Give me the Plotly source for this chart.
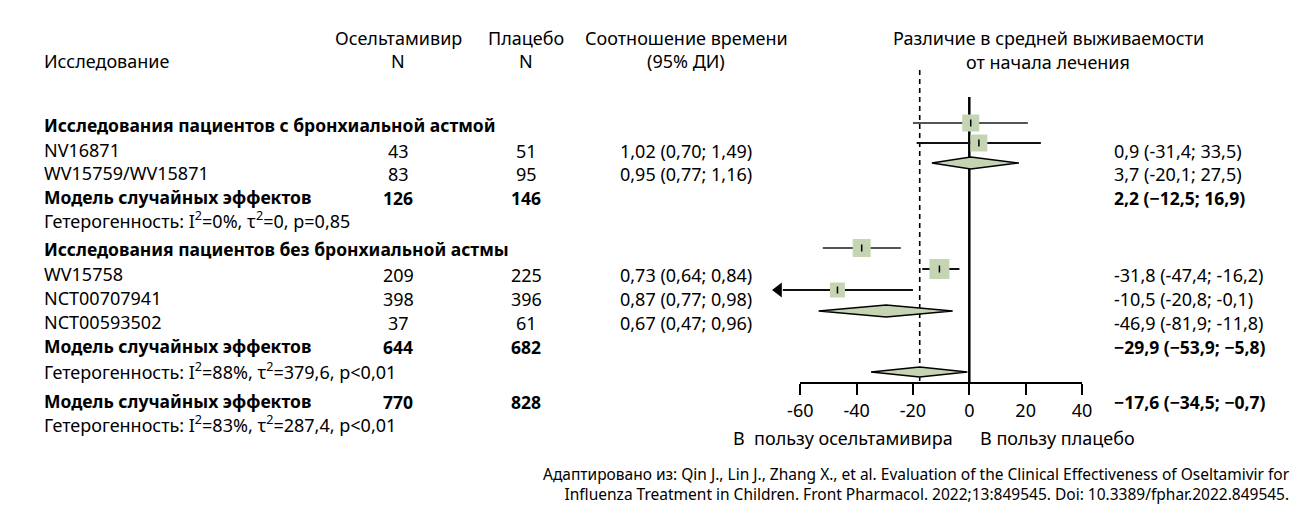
import plotly.graph_objects as go

# ---------------- data ----------------
studies = ["NV16871", "WV15759/WV15871", "WV15758", "NCT00707941", "NCT00593502"]
n_osel = [43, 83, 209, 398, 37]
n_plac = [51, 95, 225, 396, 61]
ratio_txt = ["1,02 (0,70; 1,49)", "0,95 (0,77; 1,16)", "0,73 (0,64; 0,84)",
             "0,87 (0,77; 0,98)", "0,67 (0,47; 0,96)"]
diff_txt = ["0,9 (-31,4; 33,5)", "3,7 (-20,1; 27,5)", "-31,8 (-47,4; -16,2)",
            "-10,5 (-20,8; -0,1)", "-46,9 (-81,9; -11,8)"]

group_names = ["Исследования пациентов с бронхиальной астмой",
               "Исследования пациентов без бронхиальной астмы"]
model_label = "Модель случайных эффектов"
model_n_osel = [126, 644, 770]
model_n_plac = [146, 682, 828]
model_diff_txt = ["2,2 (−12,5; 16,9)", "−29,9 (−53,9; −5,8)", "−17,6 (−34,5; −0,7)"]
het_txt = ["Гетерогенность: I<sup>2</sup>=0%, τ<sup>2</sup>=0, p=0,85",
           "Гетерогенность: I<sup>2</sup>=88%, τ<sup>2</sup>=379,6, p<0,01",
           "Гетерогенность: I<sup>2</sup>=83%, τ<sup>2</sup>=287,4, p<0,01"]

# marks as drawn in the figure
sq_est = [0.5, 3.4, -38.2, -10.6, -46.8]
sq_lo = [-20.0, -18.7, -52.0, -16.7, -70.0]
sq_hi = [20.8, 25.4, -24.3, -3.5, -20.0]
sq_size = [17, 17, 18, 20, 15]
sq_arrow_left = [False, False, False, False, True]
ci_color = ["#555555", "#111111", "#555555", "#111111", "#111111"]

pool_est = [0.5, -29.5, -17.6]
pool_lo = [-13.3, -53.5, -34.9]
pool_hi = [17.6, -5.9, -0.7]
pool_h = [12, 12, 10]
overall_est = -17.6

ticks = [-60, -40, -20, 0, 20, 40]

# ---------------- layout constants ----------------
W, H = 1310, 505
X0 = 969.3                # pixel of value 0
PXU = 2.817               # pixels per unit
def px(v):
    return X0 + PXU * v
def pap(x):
    return x / W

# row pixel positions (text)
y_hdr1, y_hdr2 = 38, 61
y_text_study = [150, 173, 274, 298, 322]
y_text_group = [125, 249]
y_text_model = [197, 346, 401]
y_text_het = [220, 371, 424]
# mark rows
y_sq = [123, 143, 248, 269, 290]
y_pool = [163, 311, 372]
Y_AXIS = 382

GREEN = "#c5d5b4"
FONT = "Noto Sans"
FS = 18
FSB = 17.5

fig = go.Figure()

xr_main = [(0 - X0) / PXU, (W - X0) / PXU]

# zero line and overall dashed line
fig.add_trace(go.Scatter(x=[0, 0], y=[97, Y_AXIS], mode="lines",
                         line=dict(color="black", width=2.5),
                         hoverinfo="skip", showlegend=False))
fig.add_trace(go.Scatter(x=[overall_est, overall_est], y=[70, Y_AXIS], mode="lines",
                         line=dict(color="black", width=1.6, dash="5px,4px"),
                         hoverinfo="skip", showlegend=False))

# study CIs, squares and ticks
for i in range(len(studies)):
    lo = sq_lo[i] + (3.8 if sq_arrow_left[i] else 0)
    fig.add_trace(go.Scatter(x=[lo, sq_hi[i]], y=[y_sq[i], y_sq[i]], mode="lines",
                             line=dict(color=ci_color[i], width=1.8),
                             hoverinfo="skip", showlegend=False))
    fig.add_trace(go.Scatter(x=[sq_est[i]], y=[y_sq[i]], mode="markers",
                             marker=dict(symbol="square", size=sq_size[i], color=GREEN,
                                         line=dict(width=0)),
                             hoverinfo="skip", showlegend=False))
    fig.add_trace(go.Scatter(x=[sq_est[i], sq_est[i]], y=[y_sq[i] - 3.5, y_sq[i] + 3.5],
                             mode="lines", line=dict(color="black", width=1.5),
                             hoverinfo="skip", showlegend=False))
    if sq_arrow_left[i]:
        fig.add_trace(go.Scatter(x=[sq_lo[i] + 2.3], y=[y_sq[i]], mode="markers",
                                 marker=dict(symbol="triangle-left", size=13, color="black",
                                             line=dict(width=0)),
                                 hoverinfo="skip", showlegend=False))

# pooled diamonds
for j in range(len(pool_est)):
    h = pool_h[j] / 2
    fig.add_trace(go.Scatter(
        x=[pool_lo[j], pool_est[j], pool_hi[j], pool_est[j], pool_lo[j]],
        y=[y_pool[j], y_pool[j] - h, y_pool[j], y_pool[j] + h, y_pool[j]],
        mode="lines", fill="toself", fillcolor=GREEN,
        line=dict(color="black", width=1.5),
        hoverinfo="skip", showlegend=False))

# dummy trace for the tick axis
fig.add_trace(go.Scatter(x=[ticks[0]], y=[0], xaxis="x2", yaxis="y2", mode="markers",
                         marker=dict(opacity=0), hoverinfo="skip", showlegend=False))

ann = []
def T(x, y, text, anchor="left", bold=False, size=None):
    if bold:
        text = "<b>" + text + "</b>"
    if size is None:
        size = FSB if bold else FS
    ann.append(dict(x=pap(x), y=y, xref="paper", yref="y", text=text, showarrow=False,
                    xanchor=anchor, yanchor="middle",
                    font=dict(family=FONT, size=size, color="black")))

X_LEFT, X_NO, X_NP, X_RT, X_DF = 42, 398, 526, 686, 1112

# headers
T(X_LEFT, y_hdr2, "Исследование")
T(X_NO, y_hdr1, "Осельтамивир", "center")
T(X_NO, y_hdr2, "N", "center")
T(X_NP, y_hdr1, "Плацебо", "center")
T(X_NP, y_hdr2, "N", "center")
T(X_RT, y_hdr1, "Соотношение времени", "center")
T(X_RT, y_hdr2, "(95% ДИ)", "center")
T(1048, y_hdr1, "Различие в средней выживаемости", "center")
T(1048, y_hdr2 + 1, "от начала лечения", "center")

for g in range(2):
    T(X_LEFT, y_text_group[g], group_names[g], bold=True)
for i in range(len(studies)):
    T(X_LEFT, y_text_study[i], studies[i])
    T(X_NO, y_text_study[i] + 1, str(n_osel[i]), "center")
    T(X_NP, y_text_study[i] + 1, str(n_plac[i]), "center")
    T(X_RT, y_text_study[i] + 1, ratio_txt[i], "center")
    T(X_DF, y_text_study[i] + 1, diff_txt[i])
for m in range(3):
    T(X_LEFT, y_text_model[m], model_label, bold=True)
    T(X_NO, y_text_model[m] + 1, str(model_n_osel[m]), "center", bold=True)
    T(X_NP, y_text_model[m] + 1, str(model_n_plac[m]), "center", bold=True)
    T(X_DF, y_text_model[m] + 1, model_diff_txt[m], bold=True)
    T(X_LEFT, y_text_het[m], het_txt[m])

T(955, 438, "В  пользу осельтамивира", "right")
T(978, 438, "В пользу плацебо", "left")

ann.append(dict(x=pap(1292), y=484, xref="paper", yref="y", showarrow=False,
                xanchor="right", yanchor="middle", align="right",
                text="Адаптировано из: Qin J., Lin J., Zhang X., et al. Evaluation of the Clinical Effectiveness of Oseltamivir for<br>"
                     "Influenza Treatment in Children. Front Pharmacol. 2022;13:849545. Doi: 10.3389/fphar.2022.849545.",
                font=dict(family=FONT, size=15.5, color="black")))

fig.update_layout(
    width=W, height=H, autosize=False,
    margin=dict(l=0, r=0, t=0, b=0, autoexpand=False),
    paper_bgcolor="white", plot_bgcolor="rgba(0,0,0,0)",
    showlegend=False,
    xaxis=dict(domain=[0, 1], range=xr_main, visible=False, fixedrange=True,
               automargin=False),
    yaxis=dict(domain=[0, 1], range=[H, 0], visible=False, fixedrange=True,
               automargin=False),
    xaxis2=dict(domain=[pap(px(ticks[0])), pap(px(ticks[-1]))], range=[ticks[0], ticks[-1]],
                anchor="y2", tickvals=ticks, ticktext=[str(t) for t in ticks],
                showline=True, linecolor="black", linewidth=2,
                ticks="outside", ticklen=11, tickwidth=2, tickcolor="black",
                showgrid=False, zeroline=False, fixedrange=True, automargin=False,
                tickfont=dict(family=FONT, size=18, color="black")),
    yaxis2=dict(domain=[(H - Y_AXIS) / H, 1], range=[Y_AXIS, 0],
                visible=False, anchor="x2", fixedrange=True, automargin=False),
    annotations=ann,
)

fig.write_html("out.html", config={"displayModeBar": False},
               post_script="document.body.style.margin='0';document.body.style.overflow='hidden';")
